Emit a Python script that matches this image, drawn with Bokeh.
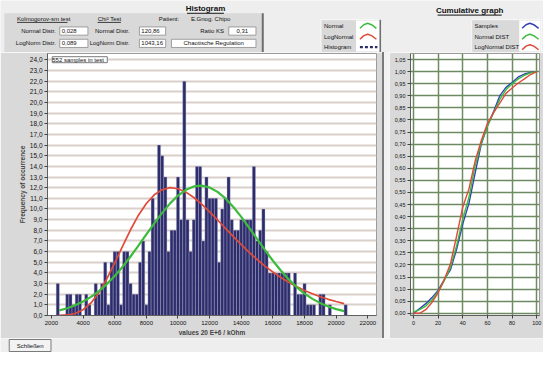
from bokeh.plotting import figure
from bokeh.layouts import column, row
from bokeh.models import Range1d, FixedTicker, CustomJSTickFormatter, Label, Spacer
from bokeh.embed import file_html
from bokeh.resources import INLINE
from bokeh.core.properties import value

FONT = "Liberation Sans"
PANEL = "#d9d9d9"
BG = "#eeeeee"
BAR = "#2d2d6e"
GREEN = "#3dbb3d"
RED = "#e04a3a"
BLUE = "#3342b8"

# ---------------- data ----------------
bin_width = 200
bin_centers = list(range(2400, 20800, 200))
hist_counts = [3, 0, 0, 2, 2, 1, 2, 2, 0, 2, 1, 0,
               3, 2, 3, 5, 1, 5, 6, 6, 1, 6, 6, 3,
               2, 2, 5, 7, 1, 6, 11, 9, 16, 15, 13, 6,
               8, 8, 13, 9, 22, 9, 6, 9, 14, 14, 7, 13,
               11, 11, 11, 5, 10, 11, 13, 9, 8, 8, 9, 9,
               9, 9, 14, 7, 8, 10, 6, 4, 4, 4, 4, 4,
               4, 4, 0, 4, 2, 2, 3, 1, 1, 1, 0, 2,
               2, 0, 1, 0, 0, 0, 0, 1]

curve_x = list(range(2500, 21000, 500))
normal_fit = [0.48, 0.68, 0.96, 1.31, 1.75, 2.29, 2.95, 3.71, 4.58, 5.54, 6.56, 7.61,
              8.65, 9.64, 10.53, 11.26, 11.80, 12.12, 12.20, 12.02, 11.61, 10.99, 10.19,
              9.26, 8.24, 7.19, 6.14, 5.14, 4.22, 3.39, 2.67, 2.06, 1.56, 1.16, 0.84, 0.60, 0.41]
lognormal_fit = [0.01, 0.05, 0.19, 0.54, 1.18, 2.15, 3.43, 4.93, 6.51, 8.05, 9.42, 10.52,
                 11.33, 11.81, 12.00, 11.90, 11.58, 11.08, 10.45, 9.73, 8.97, 8.18, 7.40,
                 6.65, 5.93, 5.26, 4.64, 4.08, 3.57, 3.12, 2.71, 2.35, 2.04, 1.76, 1.52, 1.31, 1.12]

hist_xticks = [2000, 4000, 6000, 8000, 10000, 12000, 14000, 16000, 18000, 20000, 22000]
hist_yticks = list(range(0, 25))

cum_x = [0, 5, 10, 15, 20, 25, 30, 35, 40, 45, 50, 55, 60, 65, 70, 75, 80, 85, 90, 95, 100]
samples_cdf = [0.0, 0.02, 0.04, 0.065, 0.095, 0.14, 0.18, 0.265, 0.37, 0.455, 0.58,
               0.70, 0.775, 0.835, 0.90, 0.935, 0.955, 0.978, 0.99, 0.997, 1.0]
normal_cdf = [0.005, 0.015, 0.03, 0.055, 0.09, 0.135, 0.19, 0.28, 0.39, 0.48, 0.61,
              0.705, 0.775, 0.83, 0.885, 0.925, 0.95, 0.97, 0.985, 0.995, 1.0]
lognormal_cdf = [0.0, 0.0, 0.015, 0.045, 0.085, 0.14, 0.205, 0.32, 0.44, 0.515, 0.63,
                 0.715, 0.785, 0.83, 0.87, 0.91, 0.932, 0.953, 0.97, 0.988, 1.0]
cum_xticks = [0, 20, 40, 60, 80, 100]
cum_yticks = [round(i * 0.05, 2) for i in range(22)]

n_samples = 552


# ---------------- helpers ----------------
def deco_fig(w, h, xr, yr, bg=BG):
    f = figure(width=w, height=h, x_range=Range1d(*xr), y_range=Range1d(*yr),
               output_backend="svg", toolbar_location=None, min_border=0,
               x_axis_location=None, y_axis_location=None)
    f.grid.visible = False
    f.outline_line_color = None
    f.background_fill_color = bg
    f.border_fill_color = bg
    return f


def txt(f, x, y, s, size="6px", align="left", bold=False, color="#111111"):
    f.text(x=[x], y=[y], text=[s], text_font=value(FONT), text_font_size=size,
           text_align=align, text_baseline="middle", text_color=color,
           text_font_style="bold" if bold else "normal")


def seg(f, x0, y0, x1, y1, color="#111111", width=1.0, dash="solid"):
    f.segment(x0=[x0], y0=[y0], x1=[x1], y1=[y1], line_color=color,
              line_width=width, line_dash=dash)


# ---------------- header ----------------
head = deco_fig(543, 52, (0, 559), (57, 0))
head.quad(left=[4], right=[270], top=[14], bottom=[57], fill_color=PANEL, line_color=None)
seg(head, 270, 14, 270, 57, "#6e6e6e", 2)
txt(head, 211, 9, "Histogram", "8px", "center", True)
seg(head, 192, 14, 230, 14, "#111111", 1)
txt(head, 17, 20.5, "Kolmogorov-sm test")
seg(head, 17, 24, 69, 24, "#111111", 0.8)
txt(head, 100, 20.5, "Chi² Test")
seg(head, 100, 24, 124, 24, "#111111", 0.8)
txt(head, 163, 20.5, "Patient:")
txt(head, 196, 20.5, "E.Gnog. Chipo")
txt(head, 57, 33.5, "Normal Distr.", align="right")
txt(head, 133, 33.5, "Normal Distr.", align="right")
txt(head, 230, 33.5, "Ratio KS", align="right")
txt(head, 57, 47, "LogNorm Distr.", align="right")
txt(head, 133, 47, "LogNorm Distr.", align="right")
head.quad(left=[61, 143, 235, 61, 143, 176], right=[90, 170, 263, 90, 170, 263],
          top=[29, 29, 29, 42.5, 42.5, 42.5], bottom=[38, 38, 38, 51.5, 51.5, 51.5],
          fill_color="white", line_color="#8c8c8c", line_width=0.8)
txt(head, 63, 33.5, "0,028")
txt(head, 145, 33.5, "120,86")
txt(head, 249, 33.5, "0,31", align="center")
txt(head, 63, 47, "0,089")
txt(head, 145, 47, "1043,16")
txt(head, 219.5, 47, "Chaotische Regulation", align="center")

# legend 1
head.quad(left=[330], right=[391], top=[21], bottom=[57], fill_color=PANEL, line_color="#f8f8f8")
head.quad(left=[366], right=[390], top=[22], bottom=[56], fill_color="white", line_color=None)
seg(head, 391, 21, 391, 57, "#6e6e6e", 1.5)
txt(head, 333, 27.5, "Normal")
txt(head, 333, 39.5, "LogNormal")
txt(head, 333, 51, "Histogram")
for yy, col in ((27.5, GREEN), (39.5, RED)):
    head.line(x=[370, 374, 378, 382, 387], y=[yy + 3, yy - 1, yy - 2.5, yy - 1, yy + 3],
              line_color=col, line_width=1.5)
head.line(x=[370, 388], y=[51, 51], line_color=BAR, line_width=2.2, line_dash="3 2")

# legend 2
txt(head, 483, 11, "Cumulative graph", "8px", "center", True)
seg(head, 450, 16, 516, 16, "#111111", 1)
head.quad(left=[485], right=[557], top=[21], bottom=[57], fill_color=PANEL, line_color="#f8f8f8")
head.quad(left=[534], right=[556], top=[22], bottom=[56], fill_color="white", line_color=None)
txt(head, 488, 27.5, "Samples")
txt(head, 488, 39.5, "Normal DIST")
txt(head, 488, 51, "LogNormal DIST")
for yy, col in ((27.5, BLUE), (39.5, GREEN), (51, RED)):
    head.line(x=[537, 541, 545, 549, 554], y=[yy + 3, yy - 1, yy - 2.5, yy - 1, yy + 3],
              line_color=col, line_width=1.5)

# ---------------- histogram ----------------
hist = figure(width=382, height=286, x_range=Range1d(1750, 22550), y_range=Range1d(0, 24.6),
              output_backend="svg", toolbar_location=None,
              min_border_left=47, min_border_right=6, min_border_top=1, min_border_bottom=23)
hist.background_fill_color = "white"
hist.border_fill_color = PANEL
hist.outline_line_color = "#9a9a9a"
hist.xgrid.visible = False
hist.ygrid.ticker = FixedTicker(ticks=hist_yticks)
hist.ygrid.grid_line_color = "#d9d0ca"
hist.ygrid.grid_line_width = 2
hist.vbar(x=bin_centers, width=bin_width, top=hist_counts, fill_color=BAR,
          line_color="#b4b4cc", line_width=0.35)
hist.line(curve_x, lognormal_fit, line_color=RED, line_width=1.7)
hist.line(curve_x, normal_fit, line_color=GREEN, line_width=2.2)

hist.yaxis.ticker = FixedTicker(ticks=hist_yticks)
hist.yaxis.formatter = CustomJSTickFormatter(code="return tick.toFixed(1).replace('.', ',');")
hist.xaxis.ticker = FixedTicker(ticks=hist_xticks)
hist.xaxis.axis_label = "values 20 E+6 / kOhm"
hist.yaxis.axis_label = "Frequency of occurrence"
for ax in (hist.xaxis, hist.yaxis):
    ax.major_label_text_font = FONT
    ax.major_label_text_font_size = "6px"
    ax.major_label_text_color = "#111111"
    ax.axis_label_text_font = FONT
    ax.axis_label_text_font_size = "6.5px"
    ax.axis_label_text_font_style = "bold"
    ax.axis_label_standoff = 1
    ax.major_label_standoff = 2
    ax.major_tick_in = 0
    ax.major_tick_out = 3
    ax.minor_tick_out = 0
    ax.minor_tick_in = 0
    ax.axis_line_color = "#606060"
    ax.major_tick_line_color = "#404040"
hist.yaxis.major_label_text_font_size = "6.5px"

hist.add_layout(Label(x=2050, y=24.3, text=f" {n_samples} samples in test ", text_font=FONT,
                      text_font_size="6px", text_baseline="top", text_color="#111111",
                      background_fill_color="white", border_line_color="#7a7a7a"))

# ---------------- cumulative ----------------
cum = figure(width=154, height=286, x_range=Range1d(-2.4, 102.2), y_range=Range1d(-0.009, 1.075),
             output_backend="svg", toolbar_location=None,
             min_border_left=21, min_border_right=4, min_border_top=1, min_border_bottom=20)
cum.background_fill_color = "white"
cum.border_fill_color = PANEL
cum.outline_line_color = "#9a9a9a"
cum.xgrid.ticker = FixedTicker(ticks=cum_xticks)
cum.ygrid.ticker = FixedTicker(ticks=cum_yticks)
cum.grid.grid_line_color = "#6d8b60"
cum.grid.grid_line_width = 1.5
cum.line(cum_x, samples_cdf, line_color=BLUE, line_width=1.4)
cum.line(cum_x, normal_cdf, line_color=GREEN, line_width=1.4)
cum.line(cum_x, lognormal_cdf, line_color=RED, line_width=1.4)
cum.xaxis.ticker = FixedTicker(ticks=cum_xticks)
cum.yaxis.ticker = FixedTicker(ticks=cum_yticks)
cum.yaxis.formatter = CustomJSTickFormatter(code="return tick.toFixed(2).replace('.', ',');")
for ax in (cum.xaxis, cum.yaxis):
    ax.major_label_text_font = FONT
    ax.major_label_text_font_size = "5.5px"
    ax.major_label_text_color = "#111111"
    ax.major_label_standoff = 2
    ax.major_tick_in = 0
    ax.major_tick_out = 3
    ax.minor_tick_out = 0
    ax.minor_tick_in = 0
    ax.axis_line_color = "#606060"
    ax.major_tick_line_color = "#404040"

# ---------------- footer ----------------
foot = deco_fig(543, 14, (0, 559), (368, 354))
foot.quad(left=[9], right=[52], top=[355], bottom=[367], fill_color="#f3f3f3",
          line_color="#7a7a7a", line_width=1)
txt(foot, 30.5, 361, "Schließen", "6px", "center")

sp1 = Spacer(width=2, height=286, styles={"background-color": "#7a7a7a"})
sp2 = Spacer(width=5, height=286, styles={"background-color": "#f2f2f2"})

layout = column(head, row(hist, sp1, sp2, cum), foot)
open("out.html", "w").write(file_html(layout, INLINE))
